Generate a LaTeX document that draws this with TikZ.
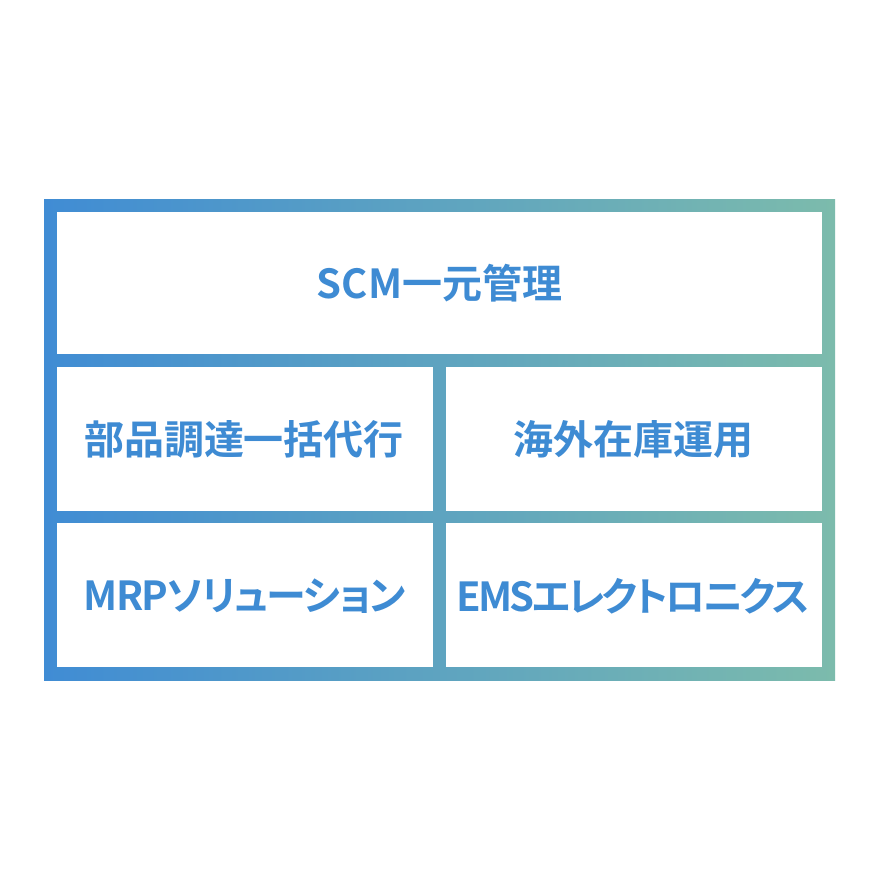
\documentclass[tikz,border=0pt]{standalone}
\usepackage{fontspec}
\newfontfamily\cjk{Noto Sans CJK JP}[BoldFont={Noto Sans CJK JP Bold}]
\newfontfamily\cjkk{Noto Sans CJK JP}[BoldFont={Noto Sans CJK JP Bold},RawFeature=+palt,LetterSpace=-7]
\newfontfamily\cjkm{Noto Sans CJK JP}[BoldFont={Noto Sans CJK JP Bold},RawFeature=+palt,LetterSpace=-4]
\definecolor{gblue}{RGB}{64,140,212}
\definecolor{gteal}{RGB}{124,187,172}
\definecolor{txtblue}{RGB}{62,139,211}
\begin{document}
\begin{tikzpicture}[x=1pt,y=-1pt,
  cell/.style={fill=white,draw=none},
  lbl/.style={font=\cjk\bfseries\fontsize{40}{46}\selectfont,text=txtblue,inner sep=0pt},
  klbl/.style={lbl,font=\cjkk\bfseries\fontsize{40}{46}\selectfont},
  mlbl/.style={lbl,font=\cjkm\bfseries\fontsize{40}{46}\selectfont}]
\useasboundingbox (0,0) rectangle (879,879);
\fill[white] (0,0) rectangle (879,879);
\shade[left color=gblue,right color=gteal] (44,199) rectangle (835,680);
\fill[cell] (57,212) rectangle (822,354);
\fill[cell] (57,367) rectangle (433,511);
\fill[cell] (446,367) rectangle (822,511);
\fill[cell] (57,523) rectangle (433,667);
\fill[cell] (446,523) rectangle (822,667);
\node[lbl] (top) at (439.5,283) {SCM一元管理};
\node[lbl] (ml) at (244,439) {部品調達一括代行};
\node[lbl] (mr) at (633,439) {海外在庫運用};
\node[mlbl] (bl) at (245,596) {MRPソリューション};
\node[klbl] (br) at (633,596) {EMSエレクトロニクス};
\end{tikzpicture}
\end{document}
